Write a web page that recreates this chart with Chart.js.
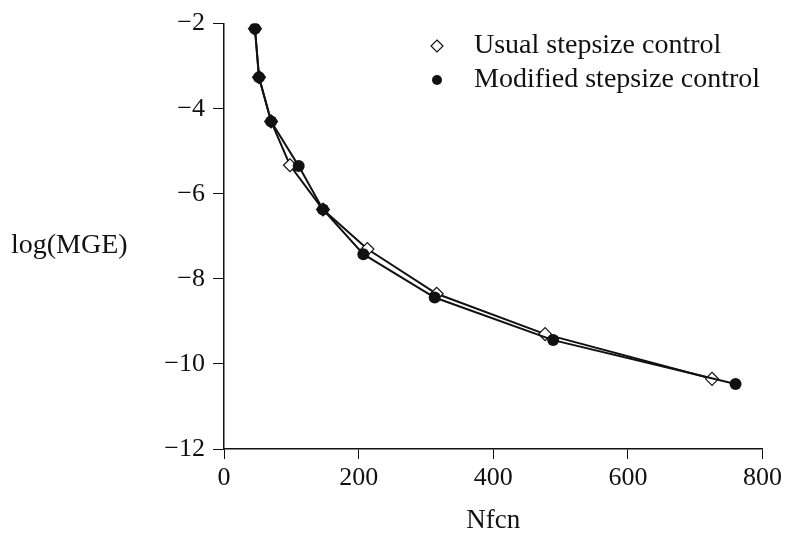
<!DOCTYPE html>
<html>
<head>
<meta charset="utf-8">
<script src="https://cdn.jsdelivr.net/npm/chart.js@4.4.0/dist/chart.umd.min.js"></script>
<style>
    html, body { margin: 0; padding: 0; background: #fff; }
    #wrap { width: 786px; height: 537px; position: relative; }
</style>
</head>
<body>
<div id="wrap"><canvas id="mgeChart"></canvas></div>
<script>
// Values
const usualNfcn = [46, 52, 70, 98, 147, 213, 316, 477, 725];
const usualLogMGE = [-2.12, -3.26, -4.30, -5.33, -6.37, -7.30, -8.35, -9.30, -10.35];
const modifiedNfcn = [46, 52, 70, 111, 147, 207, 313, 489, 760];
const modifiedLogMGE = [-2.12, -3.26, -4.30, -5.35, -6.37, -7.42, -8.44, -9.44, -10.47];
const seriesNames = ['Usual stepsize control', 'Modified stepsize control'];
const xTicks = [0, 200, 400, 600, 800];
const yTicks = [-12, -10, -8, -6, -4, -2];

const FONT = '"Liberation Serif", "DejaVu Serif", serif';

function toPoints(xs, ys) {
    return xs.map((x, i) => ({ x: x, y: ys[i] }));
}

// Horizontal y-axis title and the legend inside the plot
const extrasPlugin = {
    id: 'extras',
    afterDraw(chart) {
        const ctx = chart.ctx;
        const area = chart.chartArea;
        ctx.save();
        ctx.fillStyle = '#111';
        ctx.font = '28px ' + FONT;
        ctx.textBaseline = 'middle';
        ctx.textAlign = 'left';
        ctx.fillText('log(MGE)', 11, (area.top + area.bottom) / 2 + 9);

        // legend
        const lx = 437, rows = [46, 80];
        // diamond
        ctx.strokeStyle = '#111';
        ctx.lineWidth = 1.2;
        ctx.fillStyle = '#fff';
        ctx.beginPath();
        ctx.moveTo(lx, rows[0] - 6);
        ctx.lineTo(lx + 6, rows[0]);
        ctx.lineTo(lx, rows[0] + 6);
        ctx.lineTo(lx - 6, rows[0]);
        ctx.closePath();
        ctx.fill();
        ctx.stroke();
        // dot
        ctx.fillStyle = '#111';
        ctx.beginPath();
        ctx.arc(lx, rows[1], 5, 0, Math.PI * 2);
        ctx.fill();

        ctx.fillText(seriesNames[0], 474, rows[0]);
        ctx.fillText(seriesNames[1], 474, rows[1]);
        ctx.restore();
    }
};

document.addEventListener('DOMContentLoaded', function () {
    const ctx = document.getElementById('mgeChart').getContext('2d');
    new Chart(ctx, {
        type: 'scatter',
        data: {
            datasets: [{
                label: seriesNames[0],
                data: toPoints(usualNfcn, usualLogMGE),
                showLine: true,
                borderColor: '#111',
                borderWidth: 2,
                tension: 0,
                pointStyle: 'rectRot',
                pointRadius: 6.5,
                pointBorderWidth: 1.2,
                pointBackgroundColor: '#fff',
                pointBorderColor: '#111',
                order: 2
            }, {
                label: seriesNames[1],
                data: toPoints(modifiedNfcn, modifiedLogMGE),
                showLine: true,
                borderColor: '#111',
                borderWidth: 2,
                tension: 0,
                pointStyle: 'circle',
                pointRadius: 6,
                pointBorderWidth: 0,
                pointBackgroundColor: '#111',
                order: 1
            }]
        },
        options: {
            responsive: true,
            maintainAspectRatio: false,
            animation: false,
            layout: {
                padding: { left: 0, right: 23, top: 19, bottom: 0 }
            },
            plugins: {
                legend: { display: false },
                tooltip: { enabled: false }
            },
            scales: {
                x: {
                    type: 'linear',
                    min: 0,
                    max: 800,
                    afterBuildTicks: (scale) => {
                        scale.ticks = xTicks.map(v => ({ value: v }));
                    },
                    afterFit: (scale) => { scale.height = 88; },
                    grid: {
                        drawOnChartArea: false,
                        drawTicks: true,
                        tickLength: 10,
                        color: '#111'
                    },
                    border: { display: true, color: '#111', width: 1.5 },
                    ticks: {
                        color: '#111',
                        padding: 4,
                        font: { family: FONT, size: 26 },
                        maxRotation: 0
                    },
                    title: {
                        display: true,
                        text: 'Nfcn',
                        color: '#111',
                        padding: { top: 11, bottom: 0 },
                        font: { family: FONT, size: 27 }
                    }
                },
                y: {
                    type: 'linear',
                    min: -12,
                    max: -2,
                    afterBuildTicks: (scale) => {
                        scale.ticks = yTicks.map(v => ({ value: v }));
                    },
                    afterFit: (scale) => { scale.width = 224; },
                    grid: {
                        drawOnChartArea: false,
                        drawTicks: true,
                        tickLength: 11,
                        color: '#111'
                    },
                    border: { display: true, color: '#111', width: 1.5 },
                    ticks: {
                        color: '#111',
                        padding: 8,
                        font: { family: FONT, size: 26 },
                        callback: (v) => String(v).replace('-', '\u2212')
                    }
                }
            }
        },
        plugins: [extrasPlugin]
    });
});
</script>
</body>
</html>
